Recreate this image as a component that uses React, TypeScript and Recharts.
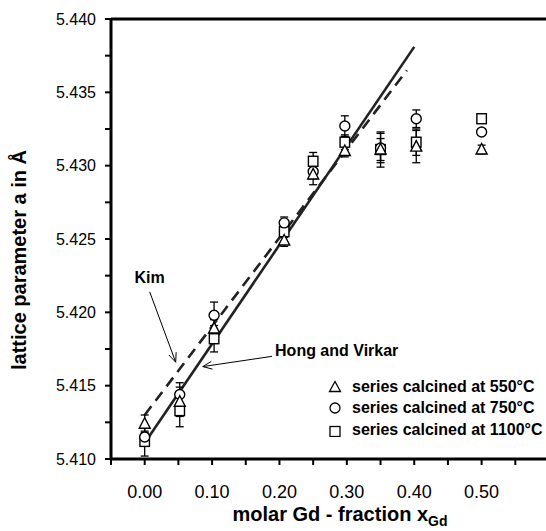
import { ComposedChart, Scatter, Line, XAxis, YAxis, ErrorBar, ReferenceLine, Legend } from "recharts"

// molar Gd fraction of each sample
const xGd = [0.0, 0.052, 0.103, 0.207, 0.25, 0.297, 0.35, 0.403, 0.5]

// lattice parameter a (Å) per calcination temperature
const a550 = [5.4124, 5.4139, 5.4189, 5.4249, 5.4294, 5.431, 5.4311, 5.4313, 5.4311]
const a750 = [5.4115, 5.4144, 5.4198, 5.4261, 5.4296, 5.4327, 5.4312, 5.4332, 5.4323]
const a1100 = [5.4112, 5.4133, 5.4182, 5.4255, 5.4303, 5.4316, 5.4311, 5.4316, 5.4332]

const err550 = [0.0006, 0.001, 0.0006, 0.0004, 0.0007, 0.0004, 0.0012, 0.0011, 0.0003]
const err750 = [0.0004, 0.0008, 0.0009, 0.0004, 0.0005, 0.0007, 0.001, 0.0006, 0.0002]
const err1100 = [0.001, 0.0011, 0.0009, 0.0004, 0.0006, 0.0005, 0.00075, 0.0009, 0.0002]

// Vegard-type lines from literature
const hongX = [0.003, 0.4]
const hongA = [5.4113, 5.4381]
const kimX = [0.0, 0.389]
const kimA = [5.413, 5.4365]

const xTicks = [-0.05, 0, 0.05, 0.1, 0.15, 0.2, 0.25, 0.3, 0.35, 0.4, 0.45, 0.5, 0.55]
const xLabels = ["0.00", "0.10", "0.20", "0.30", "0.40", "0.50"]
const yTicks = [5.41, 5.4125, 5.415, 5.4175, 5.42, 5.4225, 5.425, 5.4275, 5.43, 5.4325, 5.435, 5.4375, 5.44]
const yLabels = ["5.410", "5.415", "5.420", "5.425", "5.430", "5.435", "5.440"]

const legendNames = ["series calcined at 550°C", "series calcined at 750°C", "series calcined at 1100°C"]

const font = "'Liberation Sans', Arial, sans-serif"

const toPoints = (ys: number[], errs: number[]) => xGd.map((x, i) => ({ x, y: ys[i], err: errs[i] }))
const toLine = (xs: number[], ys: number[]) => xs.map((x, i) => ({ x, y: ys[i] }))

const s550 = toPoints(a550, err550)
const s750 = toPoints(a750, err750)
const s1100 = toPoints(a1100, err1100)

const Tri = ({ cx, cy }: any) => (
  <polygon
    points={`${cx},${cy - 6} ${cx - 5.5},${cy + 4.5} ${cx + 5.5},${cy + 4.5}`}
    fill="#fff"
    stroke="#000"
    strokeWidth={1.4}
  />
)
const Circ = ({ cx, cy }: any) => <circle cx={cx} cy={cy} r={5} fill="#fff" stroke="#000" strokeWidth={1.4} />
const Sq = ({ cx, cy }: any) => (
  <rect x={cx - 4.75} y={cy - 5} width={9.5} height={10} fill="#fff" stroke="#000" strokeWidth={1.4} />
)

const arrowHead = (x1: number, y1: number, x2: number, y2: number) => {
  const ang = Math.atan2(y2 - y1, x2 - x1)
  const len = 10
  const a1 = ang + Math.PI - 0.4
  const a2 = ang + Math.PI + 0.4
  return `M${x2 + len * Math.cos(a1)},${y2 + len * Math.sin(a1)} L${x2},${y2} L${x2 + len * Math.cos(a2)},${y2 + len * Math.sin(a2)}`
}

const KimArrow = (p: any) => (
  <g>
    <text x={p.x1} y={p.y1 - 9} textAnchor="middle" fontSize={16} fontWeight="bold" fontFamily={font} fill="#000">
      Kim
    </text>
    <line x1={p.x1} y1={p.y1} x2={p.x2} y2={p.y2} stroke="#000" strokeWidth={1} />
    <path d={arrowHead(p.x1, p.y1, p.x2, p.y2)} fill="none" stroke="#000" strokeWidth={1} />
  </g>
)

const HongArrow = (p: any) => (
  <g>
    <text x={p.x1 + 3} y={p.y1} fontSize={16} fontWeight="bold" fontFamily={font} fill="#000">
      Hong and Virkar
    </text>
    <line x1={p.x1} y1={p.y1} x2={p.x2} y2={p.y2} stroke="#000" strokeWidth={1} />
    <path d={arrowHead(p.x1, p.y1, p.x2, p.y2)} fill="none" stroke="#000" strokeWidth={1} />
  </g>
)

const legendIcons = [
  <polygon key="t" points="7,1.5 1.5,11.5 12.5,11.5" fill="#fff" stroke="#000" strokeWidth={1.3} />,
  <circle key="c" cx={7} cy={7} r={5} fill="#fff" stroke="#000" strokeWidth={1.3} />,
  <rect key="s" x={2} y={3.5} width={10} height={10} fill="#fff" stroke="#000" strokeWidth={1.3} />,
]

const LegendBox = () => (
  <div style={{ fontFamily: font, fontSize: 16, fontWeight: "bold", color: "#000" }}>
    {legendNames.map((n, i) => (
      <div key={n} style={{ display: "flex", alignItems: "center", height: 21.5, whiteSpace: "nowrap" }}>
        <svg width={14} height={14} style={{ marginRight: 10 }}>
          {legendIcons[i]}
        </svg>
        <span>{n}</span>
      </div>
    ))}
  </div>
)

const XTitle = () => (
  <text x={340} y={521} textAnchor="middle" fontSize={20} fontWeight="bold" fontFamily={font} fill="#000">
    molar Gd - fraction x
    <tspan fontSize={14} dy={5}>
      Gd
    </tspan>
  </text>
)

const YTitle = () => (
  <text
    x={26}
    y={260}
    transform="rotate(-90 26 260)"
    textAnchor="middle"
    fontSize={20}
    fontWeight="bold"
    fontFamily={font}
    fill="#000"
  >
    lattice parameter a in Å
  </text>
)

export default function App() {
  return (
    <div style={{ position: "absolute", left: 0, top: 0, width: 546, height: 531, overflow: "hidden", background: "#fff" }}>
      <ComposedChart
        width={560}
        height={531}
        margin={{ top: 19, right: 11, bottom: 0, left: 0 }}
        style={{ fontFamily: font }}
      >
        <XAxis
          type="number"
          dataKey="x"
          domain={[-0.05, 0.6]}
          ticks={xTicks}
          interval={0}
          allowDataOverflow
          tickFormatter={(v: number) => {
            const s = v.toFixed(2)
            return xLabels.includes(s) ? s : ""
          }}
          height={72}
          tickSize={6}
          tickMargin={20}
          axisLine={{ stroke: "#000", strokeWidth: 3 }}
          tickLine={{ stroke: "#000", strokeWidth: 2 }}
          tick={{ fill: "#000", fontSize: 18, fontFamily: font }}
          label={<XTitle />}
        />
        <YAxis
          type="number"
          dataKey="y"
          domain={[5.41, 5.44]}
          ticks={yTicks}
          interval={0}
          allowDataOverflow
          tickFormatter={(v: number) => {
            const s = v.toFixed(3)
            return yLabels.includes(s) && Math.abs(v * 1000 - Math.round(v * 1000)) < 1e-6 ? s : ""
          }}
          width={111}
          tickSize={6}
          tickMargin={9}
          axisLine={{ stroke: "#000", strokeWidth: 3 }}
          tickLine={{ stroke: "#000", strokeWidth: 2 }}
          tick={{ fill: "#000", fontSize: 16, fontFamily: font }}
          label={<YTitle />}
        />
        <ReferenceLine y={5.44} stroke="#000" strokeWidth={3} />
        <Line
          data={toLine(hongX, hongA)}
          dataKey="y"
          stroke="#222"
          strokeWidth={2.6}
          dot={false}
          isAnimationActive={false}
          legendType="none"
        />
        <Line
          data={toLine(kimX, kimA)}
          dataKey="y"
          stroke="#222"
          strokeWidth={2.6}
          strokeDasharray="11 7"
          dot={false}
          isAnimationActive={false}
          legendType="none"
        />
        <ReferenceLine
          segment={[
            { x: 0.0074, y: 5.4214 },
            { x: 0.046, y: 5.4166 },
          ]}
          shape={KimArrow}
        />
        <ReferenceLine
          segment={[
            { x: 0.189, y: 5.417 },
            { x: 0.0862, y: 5.4163 },
          ]}
          shape={HongArrow}
        />
        <Scatter data={s1100} shape={Sq} isAnimationActive={false} name={legendNames[2]}>
          <ErrorBar dataKey="err" direction="y" width={4} stroke="#000" strokeWidth={1.3} />
        </Scatter>
        <Scatter data={s750} shape={Circ} isAnimationActive={false} name={legendNames[1]}>
          <ErrorBar dataKey="err" direction="y" width={4} stroke="#000" strokeWidth={1.3} />
        </Scatter>
        <Scatter data={s550} shape={Tri} isAnimationActive={false} name={legendNames[0]}>
          <ErrorBar dataKey="err" direction="y" width={4} stroke="#000" strokeWidth={1.3} />
        </Scatter>
        <Legend
          content={<LegendBox />}
          layout="horizontal"
          verticalAlign="middle"
          align="center"
          wrapperStyle={{ left: 328, top: 376, width: 230 }}
        />
      </ComposedChart>
    </div>
  )
}
